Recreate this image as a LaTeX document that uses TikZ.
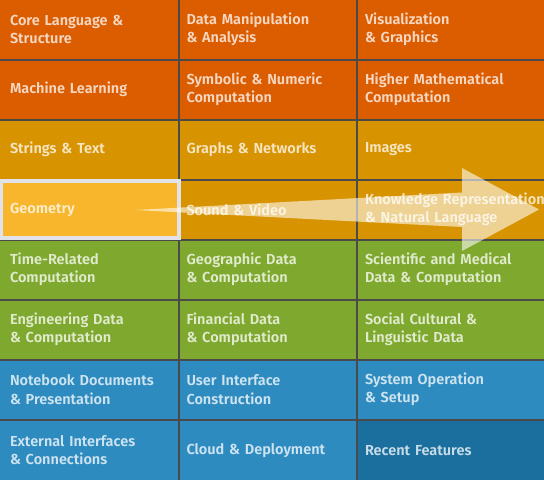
\documentclass[tikz,border=0pt]{standalone}
\usepackage{fontspec}
\newfontfamily\cellfont{Fira Sans SemiBold}
\definecolor{RustOrange}{HTML}{DC5C00}
\definecolor{Amber}{HTML}{D89400}
\definecolor{Olive}{HTML}{7FA82E}
\definecolor{Ocean}{HTML}{2E8BC0}
\definecolor{DeepOcean}{HTML}{1B6F9F}
\definecolor{Marigold}{HTML}{F8B62C}
\definecolor{GridGray}{HTML}{4A4A4A}
\definecolor{HiBorder}{HTML}{E2E2EA}
\usepackage{tikz}

\begin{document}
\begin{tikzpicture}[x=1pt, y=-1pt,
    every node/.style={font=\cellfont\fontsize{14.5}{18.5}\selectfont},
    cell/.style={rectangle, inner xsep=0pt, inner ysep=0pt, minimum height=58pt, align=left, text=white, text opacity=0.76},
    colA/.style={minimum width=177.5pt, text width=157.5pt},
    colB/.style={minimum width=176pt, text width=162pt},
    colC/.style={minimum width=186.5pt, text width=171.5pt},
    toprow/.style={minimum height=58.5pt},
    lastrow/.style={minimum height=59.5pt}]
      \fill[GridGray] (0,0) rectangle (544,480);
      \useasboundingbox (0,0) rectangle (544,480);
      % orange band
      \node[cell, colA, toprow, fill=RustOrange] (core) at (88.75,29.25) {Core Language \&\\Structure};
      \node[cell, colB, toprow, fill=RustOrange] (dataman) at (267.5,29.25) {Data Manipulation\\\& Analysis};
      \node[cell, colC, toprow, fill=RustOrange] (visual) at (450.75,29.25) {Visualization\\\& Graphics};
      \node[cell, colA, fill=RustOrange] (ml) at (88.75,89.5) {Machine Learning};
      \node[cell, colB, fill=RustOrange] (symbolic) at (267.5,89.5) {Symbolic \& Numeric\\Computation};
      \node[cell, colC, fill=RustOrange] (highmath) at (450.75,89.5) {Higher Mathematical\\Computation};
      % amber band
      \node[cell, colA, fill=Amber] (strings) at (88.75,149.5) {Strings \& Text};
      \node[cell, colB, fill=Amber] (graphs) at (267.5,149.5) {Graphs \& Networks};
      \node[cell, colC, fill=Amber] (images) at (450.75,149.5) {Images};
      \node[cell, colB, fill=Amber] (sound) at (267.5,209.5) {Sound \& Video};
      \node[cell, colC, fill=Amber] (knowledge) at (450.75,209.5) {\mbox{Knowledge Representation}\\\& Natural Language};
      % green band
      \node[cell, colA, fill=Olive] (timecomp) at (88.75,269.5) {Time-Related\\Computation};
      \node[cell, colB, fill=Olive] (geodata) at (267.5,269.5) {Geographic Data\\\& Computation};
      \node[cell, colC, fill=Olive] (scimed) at (450.75,269.5) {Scientific and Medical\\Data \& Computation};
      \node[cell, colA, fill=Olive] (engdata) at (88.75,329.5) {Engineering Data\\\& Computation};
      \node[cell, colB, fill=Olive] (findata) at (267.5,329.5) {Financial Data\\\& Computation};
      \node[cell, colC, fill=Olive] (social) at (450.75,329.5) {Social Cultural \&\\Linguistic Data};
      % blue band
      \node[cell, colA, fill=Ocean] (notebook) at (88.75,389.5) {Notebook Documents\\\& Presentation};
      \node[cell, colB, fill=Ocean] (uicons) at (267.5,389.5) {User Interface\\Construction};
      \node[cell, colC, fill=Ocean] (sysop) at (450.75,389.5) {System Operation\\\& Setup};
      \node[cell, colA, lastrow, fill=Ocean] (external) at (88.75,450.25) {External Interfaces\\\& Connections};
      \node[cell, colB, lastrow, fill=Ocean] (cloud) at (267.5,450.25) {Cloud \& Deployment};
      \node[cell, colC, lastrow, fill=DeepOcean] (recent) at (450.75,450.25) {Recent Features};
      % highlighted cell
      \node[cell, minimum width=177.4pt, text width=160.6pt, minimum height=57pt, fill=Marigold, draw=HiBorder, line width=3.2pt] (geometry) at (90.3,209.5) {Geometry};
      % wedge arrow
      \coordinate (tail) at (135,210);
      \coordinate (tip) at (539,209.5);
      \fill[white, fill opacity=0.58] (tail) -- (462,192.5) -- (462,168) -- (tip) -- (462,251) -- (462,227) -- cycle;
    \end{tikzpicture}
\end{document}
